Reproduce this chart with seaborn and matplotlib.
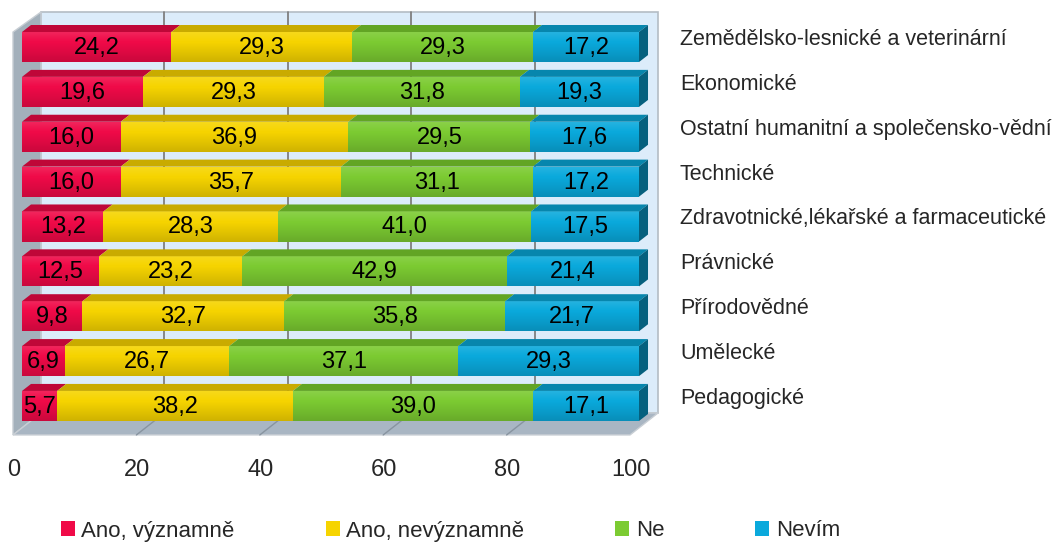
import matplotlib
matplotlib.use("Agg")
import numpy as np
import pandas as pd
import matplotlib.pyplot as plt
import seaborn as sns
from matplotlib.patches import Polygon
from matplotlib.transforms import ScaledTranslation

# data (top to bottom)
obory = ["Zemědělsko-lesnické a veterinární", "Ekonomické",
         "Ostatní humanitní a společensko-vědní", "Technické",
         "Zdravotnické,lékařské a farmaceutické", "Právnické",
         "Přírodovědné", "Umělecké", "Pedagogické"]
ano_vyznamne = [24.2, 19.6, 16.0, 16.0, 13.2, 12.5, 9.8, 6.9, 5.7]
ano_nevyznamne = [29.3, 29.3, 36.9, 35.7, 28.3, 23.2, 32.7, 26.7, 38.2]
ne = [29.3, 31.8, 29.5, 31.1, 41.0, 42.9, 35.8, 37.1, 39.0]
nevim = [17.2, 19.3, 17.6, 17.2, 17.5, 21.4, 21.7, 29.3, 17.1]
serie = ["Ano, významně", "Ano, nevýznamně", "Ne", "Nevím"]

barvy = ["#f00a48", "#f6d400", "#7ccb32", "#0aa9dc"]
barvy_top = ["#bf0738", "#c9ab00", "#62a524", "#0786ad"]
barva_bok = "#05607e"

sns.set_theme(style="white")
plt.rcParams["font.family"] = ["Liberation Sans", "DejaVu Sans"]
FS = 17

W, H = 1059, 545
fig = plt.figure(figsize=(W / 100, H / 100), dpi=100)
ax = fig.add_axes([22 / W, 1 - 428.4 / H, 617 / W, 403.8 / H])
ax.set_facecolor("none")

hodnoty = np.array([ano_vyznamne, ano_nevyznamne, ne, nevim])
kum = np.cumsum(hodnoty, axis=0)
zacatky = kum - hodnoty
sirka = 0.67

# stacked bars: draw cumulative sums from the longest to the shortest
for k in reversed(range(4)):
    sns.barplot(x=kum[k], y=obory, order=obory, orient="h", color=barvy[k],
                saturation=1, width=sirka, linewidth=0, label=serie[k], ax=ax, zorder=3)

# soft vertical shading on the bar fronts
t = np.linspace(0, 1, 60)
stin = np.zeros((60, 1, 4))
stin[:, 0, :3] = np.where(t < 0.35, 1.0, 0.0)[:, None]
stin[:, 0, 3] = np.where(t < 0.35, 0.12 * (0.35 - t) / 0.35, 0.16 * (t - 0.35) / 0.65)
for i, patch in enumerate(ax.containers[0].patches):
    im = ax.imshow(stin, extent=(0, 100, i + sirka / 2, i - sirka / 2), aspect="auto",
                   interpolation="bilinear", zorder=3.5)
    im.set_clip_path(patch)

ax.set_xlim(0, 100)
ax.set_ylim(8.5, -0.5)

# 3D look of the bars
dx, dy = 1.46, 0.156
for k in range(4):
    for i in range(len(obory)):
        x0, x1 = zacatky[k][i], kum[k][i]
        yt = i - sirka / 2
        ax.add_patch(Polygon([(x0, yt), (x1, yt), (x1 + dx, yt - dy), (x0 + dx, yt - dy)],
                             closed=True, fc=barvy_top[k], ec="none", zorder=3, clip_on=False))
        if k == 3:
            yb = i + sirka / 2
            ax.add_patch(Polygon([(x1, yt), (x1 + dx, yt - dy), (x1 + dx, yb - dy), (x1, yb)],
                                 closed=True, fc=barva_bok, ec="none", zorder=3, clip_on=False))
        v = hodnoty[k][i]
        ax.text((x0 + x1) / 2, i + 0.02, f"{v:.1f}".replace(".", ","), ha="center", va="center",
                fontsize=FS, color="black", zorder=5)

# walls and floor
bx, fx = 3.08, -1.46
btop, bbot = -0.78, 8.156
ftop, fbot = -0.334, 8.646
ax.add_patch(Polygon([(bx, btop), (bx + 100, btop), (bx + 100, bbot), (bx, bbot)], closed=True,
                     fc="#dcecfa", ec="#b4bcc4", lw=1.2, zorder=0, clip_on=False))
ax.add_patch(Polygon([(fx, ftop), (bx, btop), (bx, bbot), (fx, fbot)], closed=True,
                     fc="#a3b0bb", ec="#c8ced4", lw=1, zorder=1, clip_on=False))
ax.add_patch(Polygon([(fx, fbot), (fx + 100, fbot), (bx + 100, bbot), (bx, bbot)], closed=True,
                     fc="#a9b6c3", ec="#c8ced4", lw=1, zorder=1, clip_on=False))
for v in [20, 40, 60, 80]:
    ax.plot([bx + v, bx + v], [btop, bbot], color="#7f7f7f", lw=1.3, zorder=0.5, clip_on=False)
    ax.plot([bx + v, fx + v], [bbot, fbot], color="#8894a0", lw=1, zorder=1.5, clip_on=False)

for s in ax.spines.values():
    s.set_visible(False)
ax.grid(False)
ax.set_xlabel("")
ax.set_ylabel("")

# x ticks sit on the front edge of the floor
ax.set_xticks([0, 20, 40, 60, 80, 100])
ax.set_xticklabels(["0", "20", "40", "60", "80", "100"])
ax.tick_params(axis="x", length=0, pad=22, labelsize=FS)
for t in ax.get_xticklabels():
    t.set_transform(t.get_transform() + ScaledTranslation(-0.08, 0, fig.dpi_scale_trans))

# category names on the right
ax.yaxis.tick_right()
ax.tick_params(axis="y", length=0, pad=29.5, labelsize=15.5)
for t in ax.get_yticklabels():
    t.set_horizontalalignment("left")
    t.set_transform(t.get_transform() + ScaledTranslation(0, 0.10, fig.dpi_scale_trans))

# legend in one row under the chart
if ax.get_legend():
    ax.get_legend().remove()
handles, labels = ax.get_legend_handles_labels()
poradi = {l: h for h, l in zip(handles, labels)}
fig.legend([poradi[s] for s in serie], serie, loc="center left",
           bbox_to_anchor=(61 / W, 1 - 531 / H), ncol=4, frameon=False, fontsize=16,
           handlelength=0.62, handleheight=0.62, handletextpad=0.3, columnspacing=4.1,
           borderpad=0, borderaxespad=0)

fig.savefig("out.png", dpi=100)
